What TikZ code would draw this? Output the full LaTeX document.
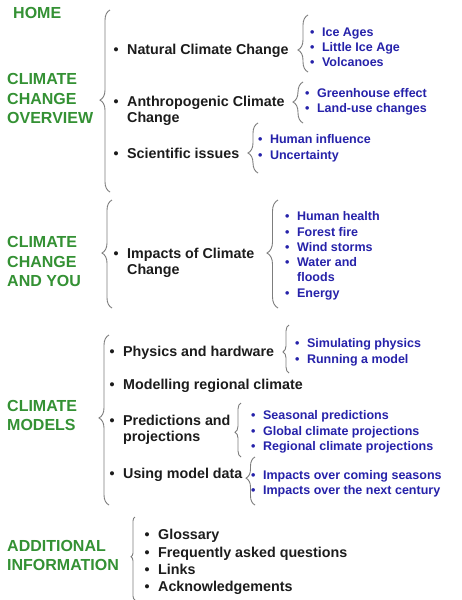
\documentclass[tikz,border=0pt]{standalone}
\usepackage{fontspec}
\setmainfont{Liberation Sans}
\usetikzlibrary{decorations.pathreplacing}
\definecolor{cgreen}{RGB}{52,145,52}
\definecolor{cblue}{RGB}{38,34,170}
\definecolor{ctext}{RGB}{28,28,28}
\definecolor{cbrace}{RGB}{125,125,125}
\newcommand\bl{\textbullet\hspace{0.6em}}
\newcommand\nbl{\phantom{\textbullet}\hspace{0.6em}}
\begin{document}
\begin{tikzpicture}[x=1pt,y=-1pt,
  grn/.style={font=\fontsize{16}{19.5}\selectfont\bfseries, text=cgreen, anchor=base west, inner sep=0pt, yshift=-5.7pt, align=left},
  itm/.style={font=\fontsize{14.3}{16.5}\selectfont\bfseries, text=ctext, anchor=base west, inner sep=0pt, yshift=-4.9pt, align=left},
  sub/.style={font=\fontsize{12.5}{15}\selectfont\bfseries, text=cblue, anchor=base west, inner sep=0pt, yshift=-4.3pt},
  brc/.style={draw=cbrace, line width=0.9pt, decorate}]
\useasboundingbox[fill=white] (0,0) rectangle (461,600);

% multi-line nodes are placed by their last line

% ---------- Section 1 ----------
\node[grn] (home) at (13,13) {HOME};
\node[grn] (ov) at (7,118) {CLIMATE\\CHANGE\\OVERVIEW};
\draw[brc, decoration={brace,amplitude=10pt,aspect=0.505}] (110,192) -- (110,10);

\node[itm] (nat) at (113.4,50) {\bl Natural Climate Change};
\draw[brc, decoration={brace,amplitude=10pt,aspect=0.386}] (308,72) -- (308,15);
\node[sub] (ice) at (310,32) {\bl Ice Ages};
\node[sub] (lia) at (310,47) {\bl Little Ice Age};
\node[sub] (volc) at (310,62) {\bl Volcanoes};

\node[itm] (anth) at (113.4,118) {\bl Anthropogenic Climate\\\nbl Change};
\draw[brc, decoration={brace,amplitude=10pt,aspect=0.512}] (303,123) -- (303,82);
\node[sub] (gh) at (305,93) {\bl Greenhouse effect};
\node[sub] (lu) at (305,108) {\bl Land-use changes};

\node[itm] (sci) at (113.4,154) {\bl Scientific issues};
\draw[brc, decoration={brace,amplitude=10pt,aspect=0.4}] (258,173) -- (258,123);
\node[sub] (hi) at (258,139) {\bl Human influence};
\node[sub] (unc) at (258,155) {\bl Uncertainty};

% ---------- Section 2 ----------
\node[grn] (you) at (7,281) {CLIMATE\\CHANGE\\AND YOU};
\draw[brc, decoration={brace,amplitude=10pt,aspect=0.509}] (112,308) -- (112,200);
\node[itm] (imp) at (113.4,270) {\bl Impacts of Climate\\\nbl Change};
\draw[brc, decoration={brace,amplitude=11pt,aspect=0.509}] (278,308) -- (278,200);
\node[sub] (hh) at (285,216) {\bl Human health};
\node[sub] (ff) at (285,232) {\bl Forest fire};
\node[sub] (ws) at (285,247) {\bl Wind storms};
\node[sub] (wf) at (285,262) {\bl Water and};
\node[sub] (fl) at (297,277) {floods};
\node[sub] (en) at (285,293) {\bl Energy};

% ---------- Section 3 ----------
\node[grn] (mod) at (7,425) {CLIMATE\\MODELS};
\draw[brc, decoration={brace,amplitude=10pt,aspect=0.512}] (109,505) -- (109,335);

\node[itm] (phys) at (109.4,352) {\bl Physics and hardware};
\draw[brc, decoration={brace,amplitude=6pt,aspect=0.44}] (289,373) -- (289,325);
\node[sub] (sim) at (295,343) {\bl Simulating physics};
\node[sub] (run) at (295,359) {\bl Running a model};

\node[itm] (modreg) at (109.4,385) {\bl Modelling regional climate};

\node[itm] (pred) at (109.4,437) {\bl Predictions and\\\nbl projections};
\draw[brc, decoration={brace,amplitude=6pt,aspect=0.46}] (241,457) -- (241,403);
\node[sub] (sea) at (251,415) {\bl Seasonal predictions};
\node[sub] (glo) at (251,431) {\bl Global climate projections};
\node[sub] (reg) at (251,446) {\bl Regional climate projections};

\node[itm] (use) at (109.4,474) {\bl Using model data};
\draw[brc, decoration={brace,amplitude=9pt,aspect=0.56}] (255,505) -- (255,457);
\node[sub] (ics) at (251,475) {\bl Impacts over coming seasons};
\node[sub] (int) at (251,490) {\bl Impacts over the next century};

% ---------- Section 4 ----------
\node[grn] (add) at (7,565) {ADDITIONAL\\INFORMATION};
\draw[brc, decoration={brace,amplitude=4pt,aspect=0.52}] (135,600) -- (135,517);
\node[itm] (glos) at (144.4,535) {\bl Glossary};
\node[itm] (faq) at (144.4,553) {\bl Frequently asked questions};
\node[itm] (links) at (144.4,570) {\bl Links};
\node[itm] (ack) at (144.4,587) {\bl Acknowledgements};
\end{tikzpicture}
\end{document}
